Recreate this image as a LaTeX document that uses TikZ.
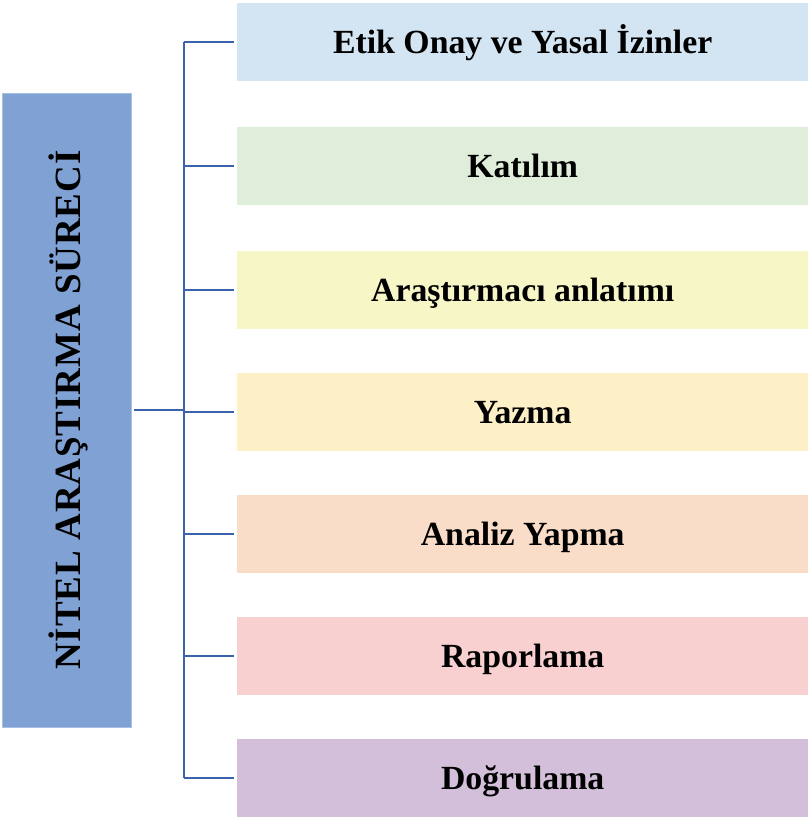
\documentclass[tikz,border=0pt]{standalone}
\usepackage{fontspec}
\setmainfont{Liberation Serif}
\newfontfamily\rootfont[LetterSpace=2.5]{Liberation Serif}
\definecolor{rootfill}{HTML}{7FA1D3}
\definecolor{rootline}{HTML}{A7BFE3}
\definecolor{conn}{HTML}{3A63AC}
\definecolor{cA}{HTML}{D3E5F3}
\definecolor{cB}{HTML}{DFEDDA}
\definecolor{cC}{HTML}{F7F6C7}
\definecolor{cD}{HTML}{FDEFC6}
\definecolor{cE}{HTML}{FADDC8}
\definecolor{cF}{HTML}{F8D0CF}
\definecolor{cG}{HTML}{D4BFDB}
\begin{document}
\begin{tikzpicture}[x=1pt,y=-1pt,
  rootbox/.style={draw=rootline,line width=0.8pt,fill=rootfill,minimum width=129pt,minimum height=634pt,inner sep=0pt},
  stepbox/.style={anchor=west,minimum width=571pt,minimum height=78pt,inner sep=0pt,
     text height=23pt,text depth=0pt,font=\fontsize{33.8}{36}\selectfont\bfseries},
  link/.style={draw=conn,line width=2pt}]
\useasboundingbox (0,0) rectangle (808,818);
\node[rootbox] (root) at (66.5,410) {};
\node[rotate=90,anchor=base,inner sep=0pt,font=\rootfont\fontsize{37}{40}\selectfont\bfseries] (roottxt) at (80,410) {NİTEL ARAŞTIRMA SÜRECİ};
\node[stepbox,fill=cA] (b1) at (237,42) {Etik Onay ve Yasal İzinler};
\node[stepbox,fill=cB] (b2) at (237,166) {Katılım};
\node[stepbox,fill=cC] (b3) at (237,290) {Araştırmacı anlatımı};
\node[stepbox,fill=cD] (b4) at (237,412) {Yazma};
\node[stepbox,fill=cE] (b5) at (237,534) {Analiz Yapma};
\node[stepbox,fill=cF] (b6) at (237,656) {Raporlama};
\node[stepbox,fill=cG] (b7) at (237,778) {Doğrulama};
\coordinate (j) at (184,410);
\draw[link] ([xshift=3pt]root.east |- j) -- (j);
\draw[link] (j |- b1.west) -- (j |- b7.west);
\foreach \b in {b1,b2,b3,b4,b5,b6,b7}{
  \draw[link] (j |- \b.west) -- ([xshift=-3pt]\b.west);
}
\end{tikzpicture}
\end{document}
